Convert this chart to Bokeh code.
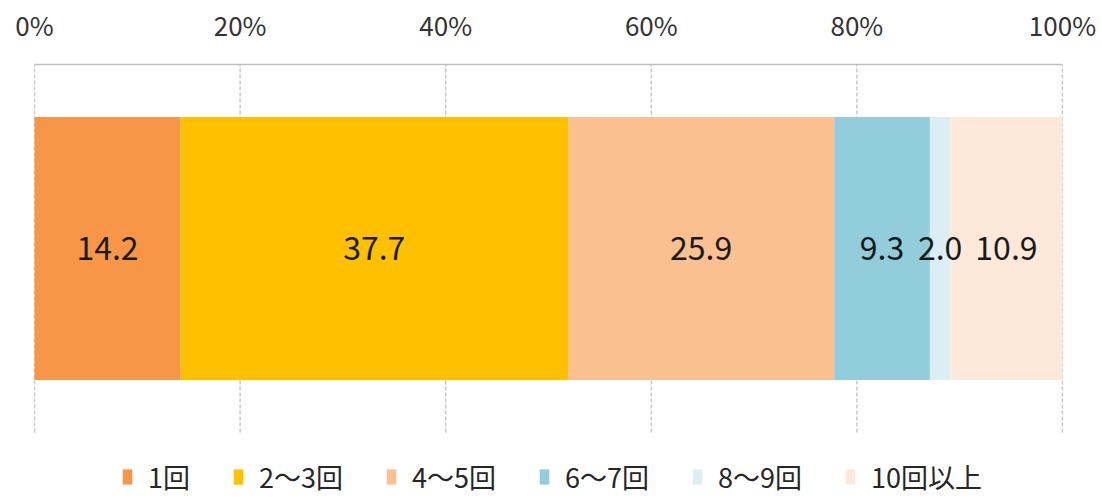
from bokeh.plotting import figure
from bokeh.models import ColumnDataSource, Range1d, Legend, LegendItem, FixedTicker, CustomJSTickFormatter
from bokeh.core.properties import value
from bokeh.embed import file_html
from bokeh.resources import INLINE

categories = ["1回", "2～3回", "4～5回", "6～7回", "8～9回", "10回以上"]
values = [14.2, 37.7, 25.9, 9.3, 2.0, 10.9]
colors = ["#F79646", "#FFC000", "#FAC090", "#92CDDC", "#DAEEF3", "#FDE9D9"]
tick_values = [0, 20, 40, 60, 80, 100]
label_texts = ["14.2", "37.7", "25.9", "9.3", "2.0", "10.9"]

FONT = "Noto Sans CJK JP"

# plot band in y: 0..1 is the gridded area, below it is room for the legend
BAND_LO, BAND_HI = 0.0, 1.0
Y_MIN = -0.185
BAR_Y, BAR_H = 0.5, 0.715

lefts, rights = [], []
acc = 0.0
for v in values:
    lefts.append(acc)
    acc += v
    rights.append(acc)
mids = [(l + r) / 2 for l, r in zip(lefts, rights)]

p = figure(width=1102, height=500, output_backend="svg", toolbar_location=None,
           x_range=Range1d(-0.1, 100.1), y_range=Range1d(Y_MIN, BAND_HI),
           x_axis_location="above",
           min_border_left=33, min_border_right=39, min_border_bottom=0, min_border_top=64)
p.outline_line_color = None
p.background_fill_color = "white"
p.border_fill_color = "white"

# dashed vertical grid lines
p.segment(x0=tick_values, y0=[BAND_LO] * len(tick_values),
          x1=tick_values, y1=[BAND_HI] * len(tick_values),
          line_color="#C8C8C8", line_width=1.5, line_dash="4 2")

renderers = []
for i, c in enumerate(categories):
    r = p.hbar(y=BAR_Y, left=lefts[i], right=rights[i], height=BAR_H,
               fill_color=colors[i], line_color=None)
    renderers.append(r)

tsrc = ColumnDataSource(dict(x=mids, y=[BAR_Y] * len(mids), t=label_texts))
p.text(x="x", y="y", text="t", source=tsrc, text_align="center", text_baseline="middle",
       text_font=value(FONT), text_font_size="32px", text_color="#1A1A1A")

ax = p.xaxis[0]
ax.ticker = FixedTicker(ticks=tick_values)
ax.formatter = CustomJSTickFormatter(code="return tick.toFixed(0) + '%';")
ax.bounds = (0, 100)
ax.axis_line_color = "#BFBFBF"
ax.axis_line_width = 1.5
ax.major_tick_line_color = None
ax.minor_tick_line_color = None
ax.major_tick_out = 0
ax.major_tick_in = 0
ax.major_label_standoff = 22
ax.major_label_text_font = FONT
ax.major_label_text_font_size = "26px"
ax.major_label_text_color = "#333333"

p.yaxis.visible = False
p.xgrid.visible = False
p.ygrid.visible = False

items = [LegendItem(label=c, renderers=[renderers[i]]) for i, c in enumerate(categories)]
legend = Legend(items=items, orientation="horizontal", location=(88, 4),
                glyph_width=12, glyph_height=19, spacing=42, label_standoff=15,
                label_text_font=FONT, label_text_font_size="27px",
                label_text_color="#262626", padding=0, margin=0,
                border_line_color=None, background_fill_alpha=0)
p.add_layout(legend, "center")

open("out.html", "w").write(file_html(p, INLINE))
